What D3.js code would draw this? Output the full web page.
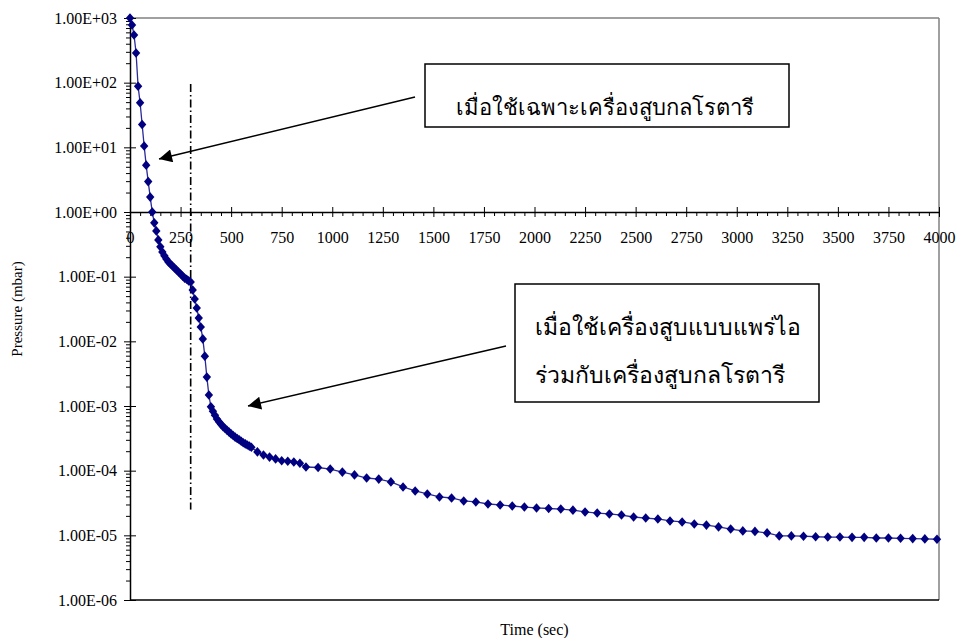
<!DOCTYPE html>
<html><head><meta charset="utf-8">
<script src="https://cdn.jsdelivr.net/npm/d3@7"></script>
<style>
body{margin:0;background:#fff}
svg text{font-family:"Liberation Serif","Times New Roman",serif;fill:#000}
</style>
</head><body>
<svg id="c" width="956" height="638"></svg>
<script>
// ---- data ----
const timeSec = [
  0,10,20,30,40,50,60,70,80,90,100,110,120,130,140,150,160,170,180,190,
  200,210,220,230,240,250,260,270,280,290,300,310,320,330,340,350,360,370,380,390,
  400,410,420,430,440,450,460,470,480,490,500,510,520,530,540,550,560,570,580,590,600,
  630,660,690,720,750,780,810,840,
  870,930,990,1050,1110,1170,1230,1290,1350,1410,1470,1530,1590,1650,1710,1770,1830,1890,1950,2010,
  2070,2130,2190,2250,2310,2370,2430,2490,2550,2610,2670,2730,2790,2850,2910,2970,3030,3090,3150,3210,
  3270,3330,3390,3450,3510,3570,3630,3690,3750,3810,3870,3930,3990
];
const pressure = [
  1000,780,546,288,88,49,22.5,10.5,5.3,2.95,1.7,1.0,0.68,0.51,0.37,0.29,0.24,0.21,0.187,0.169,
  0.157,0.146,0.136,0.127,0.118,0.110,0.102,0.095,0.091,0.086,0.0827,0.0622,0.0452,0.0328,0.0229,0.0167,0.0109,0.0059,0.0028,0.00148,
  0.00097,0.00083,0.00072,0.00063,0.00057,0.00052,0.00048,0.00045,0.00042,0.000395,0.00037,0.00035,0.00033,0.000315,0.0003,0.000285,0.00027,0.00026,0.00025,0.00024,0.00023,
  0.000195,0.000175,0.000162,0.000152,0.000142,0.00014,0.000136,0.00013,
  1.14e-4,1.12e-4,1.06e-4,9.5e-5,8.6e-5,7.7e-5,7.4e-5,6.7e-5,5.6e-5,4.85e-5,4.36e-5,3.92e-5,3.78e-5,3.4e-5,3.28e-5,3.05e-5,2.95e-5,2.84e-5,2.74e-5,2.65e-5,
  2.6e-5,2.55e-5,2.45e-5,2.3e-5,2.21e-5,2.14e-5,2.06e-5,1.92e-5,1.85e-5,1.79e-5,1.67e-5,1.61e-5,1.5e-5,1.44e-5,1.35e-5,1.25e-5,1.17e-5,1.15e-5,1.09e-5,9.8e-6,
  9.8e-6,9.7e-6,9.5e-6,9.4e-6,9.4e-6,9.3e-6,9.3e-6,9.1e-6,9.1e-6,9.0e-6,8.9e-6,8.8e-6,8.7e-6
];
const xTicks = [0,250,500,750,1000,1250,1500,1750,2000,2250,2500,2750,3000,3250,3500,3750,4000];
const yTicks = [1e3,1e2,1e1,1e0,1e-1,1e-2,1e-3,1e-4,1e-5,1e-6];
const switchTime = 300;
const note1 = "เมื่อใช้เฉพาะเครื่องสูบกลโรตารี";
const note2 = ["เมื่อใช้เครื่องสูบแบบแพร่ไอ","ร่วมกับเครื่องสูบกลโรตารี"];
const xTitle = "Time (sec)";
const yTitle = "Pressure (mbar)";

// ---- chart ----
const svg = d3.select("#c");
const L=130, R=939, T=18, B=600;
const x = d3.scaleLinear().domain([0,4000]).range([L,R]);
const y = d3.scaleLog().domain([1e-6,1e3]).range([B,T]);
const data = timeSec.map((t,i)=>({t, p:pressure[i]}));

// frame
svg.append("line").attr("x1",L).attr("x2",R).attr("y1",T).attr("y2",T).attr("stroke","#808080").attr("stroke-width",1.5);
svg.append("line").attr("x1",R).attr("x2",R).attr("y1",T).attr("y2",B).attr("stroke","#808080").attr("stroke-width",1.5);
svg.append("line").attr("x1",L).attr("x2",R).attr("y1",B).attr("y2",B).attr("stroke","#000").attr("stroke-width",1.5);

const fmtE = v => { const e=Math.round(Math.log10(v)); return "1.00E"+(e<0?"-":"+")+String(Math.abs(e)).padStart(2,"0"); };

// y minor ticks
const yMinor = [];
for (let e=-6;e<3;e++) for (let m=2;m<=9;m++) yMinor.push(m*Math.pow(10,e));
const gyMinor = svg.append("g").attr("transform",`translate(${L},0)`)
  .call(d3.axisLeft(y).tickValues(yMinor).tickSize(4).tickSizeOuter(0).tickFormat(""));
gyMinor.select(".domain").remove();

// y axis
const gy = svg.append("g").attr("transform",`translate(${L},0)`)
  .call(d3.axisLeft(y).tickValues(yTicks).tickFormat(fmtE).tickSize(6).tickSizeOuter(0).tickPadding(7));
gy.selectAll(".tick line").attr("x1",-6).attr("x2",6);
gy.selectAll("text").attr("font-size",16).attr("font-family","Liberation Serif");
gy.select(".domain").attr("stroke-width",1.5);

// x axis at y=1
const y0 = y(1);
const xMinor = d3.range(0,4001,50).filter(v=>v%250!==0);
const gxMinor = svg.append("g").attr("transform",`translate(0,${y0})`)
  .call(d3.axisBottom(x).tickValues(xMinor).tickSize(4).tickSizeOuter(0).tickFormat(""));
gxMinor.select(".domain").remove();
const gx = svg.append("g").attr("transform",`translate(0,${y0})`)
  .call(d3.axisBottom(x).tickValues(xTicks).tickSize(5).tickSizeOuter(0).tickPadding(15).tickFormat(d3.format("d")));
gx.selectAll(".tick line").attr("y1",-5).attr("y2",5);
gx.selectAll("text").attr("font-size",16).attr("font-family","Liberation Serif");
gx.select(".domain").attr("stroke-width",1.5);

// titles
svg.append("text").attr("x",(L+R)/2).attr("y",635).attr("text-anchor","middle").attr("font-size",16).text(xTitle);
svg.append("text").attr("transform",`translate(22,${(T+B)/2}) rotate(-90)`).attr("text-anchor","middle").attr("font-size",15).text(yTitle);

// switch line
svg.append("line").attr("x1",x(switchTime)).attr("x2",x(switchTime)).attr("y1",y(95)).attr("y2",y(2.5e-5))
  .attr("stroke","#000").attr("stroke-width",1.6).attr("stroke-dasharray","8,3,1.5,3");

// series
svg.append("path").datum(data)
  .attr("d", d3.line().x(d=>x(d.t)).y(d=>y(d.p)))
  .attr("fill","none").attr("stroke","#2a2a96").attr("stroke-width",1.3);
svg.append("g").selectAll("path").data(data).join("path")
  .attr("transform",d=>`translate(${x(d.t)},${y(d.p)})`)
  .attr("d","M0,-4.8L4.2,0L0,4.8L-4.2,0Z")
  .attr("fill","#000080");

// arrows
const defs = svg.append("defs");
defs.append("marker").attr("id","ah").attr("viewBox","0 0 10 10").attr("refX",10).attr("refY",5)
  .attr("markerWidth",18).attr("markerHeight",13).attr("markerUnits","userSpaceOnUse").attr("orient","auto")
  .append("path").attr("d","M0,0L10,5L0,10Z").attr("fill","#000");
svg.append("line").attr("x1",415).attr("y1",97).attr("x2",159).attr("y2",159)
  .attr("stroke","#000").attr("stroke-width",1.5).attr("marker-end","url(#ah)");
svg.append("line").attr("x1",506).attr("y1",346).attr("x2",248).attr("y2",406)
  .attr("stroke","#000").attr("stroke-width",1.5).attr("marker-end","url(#ah)");

// note boxes
svg.append("rect").attr("x",425).attr("y",64).attr("width",364).attr("height",63)
  .attr("fill","#fff").attr("stroke","#000").attr("stroke-width",1.5);
svg.append("text").attr("x",605).attr("y",115).attr("text-anchor","middle").attr("font-size",22).text(note1);
svg.append("rect").attr("x",515).attr("y",284).attr("width",304).attr("height",118)
  .attr("fill","#fff").attr("stroke","#000").attr("stroke-width",1.5);
svg.append("text").attr("x",535).attr("y",335).attr("font-size",23).text(note2[0]);
svg.append("text").attr("x",535).attr("y",383).attr("font-size",23).text(note2[1]);
</script>
</body></html>
